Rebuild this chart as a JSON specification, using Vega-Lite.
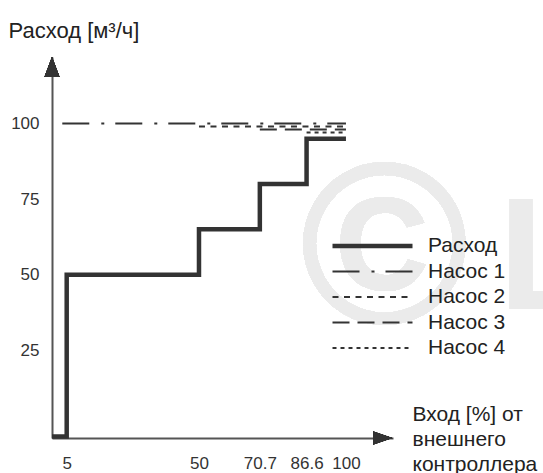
{
  "$schema": "https://vega.github.io/schema/vega-lite/v6.json",
  "width": 341,
  "height": 381,
  "autosize": "none",
  "padding": {"left": 52, "top": 57, "right": 150, "bottom": 35},
  "background": "white",
  "config": {
    "view": {"stroke": null},
    "font": "Liberation Sans",
    "axis": {"grid": false, "ticks": false, "domainColor": "#555", "domainWidth": 2, "labelFont": "Liberation Sans", "labelColor": "#333", "labelFontSize": 17, "titleFont": "Liberation Sans", "titleColor": "#222", "titleFontWeight": "normal", "titleFontSize": 21}
  },
  "data": {
    "values": [
      {"series": "Расход", "x": 0, "y": -3.5},
      {"series": "Расход", "x": 5, "y": 50},
      {"series": "Расход", "x": 50, "y": 65},
      {"series": "Расход", "x": 70.7, "y": 80},
      {"series": "Расход", "x": 86.6, "y": 95},
      {"series": "Расход", "x": 100, "y": 95},
      {"series": "Насос 1", "x": 3.5, "y": 100},
      {"series": "Насос 1", "x": 100, "y": 100},
      {"series": "Насос 2", "x": 50, "y": 99},
      {"series": "Насос 2", "x": 100, "y": 99},
      {"series": "Насос 3", "x": 70.7, "y": 98},
      {"series": "Насос 3", "x": 100, "y": 98},
      {"series": "Насос 4", "x": 86.6, "y": 97},
      {"series": "Насос 4", "x": 100, "y": 97}
    ]
  },
  "layer": [
    {
      "mark": {"type": "text", "text": "©", "fontSize": 230, "fontWeight": "bold", "color": "#ebebeb", "align": "center", "baseline": "middle"},
      "encoding": {
        "x": {"datum": 113, "type": "quantitative"},
        "y": {"datum": 57, "type": "quantitative"}
      }
    },
    {
      "mark": {"type": "text", "text": "L", "fontSize": 160, "fontWeight": "bold", "color": "#ebebeb", "align": "left", "baseline": "alphabetic"},
      "encoding": {
        "x": {"datum": 152, "type": "quantitative"},
        "y": {"datum": 38.5, "type": "quantitative"}
      }
    },
    {
      "mark": {"type": "line", "interpolate": "step-after", "color": "#333", "strokeCap": "butt", "strokeJoin": "miter"},
      "encoding": {
        "x": {
          "field": "x", "type": "quantitative",
          "scale": {"domain": [0, 116], "nice": false, "zero": false},
          "axis": {
            "values": [5, 50, 70.7, 86.6, 100], "labelExpr": "toString(datum.value)", "labelPadding": 17,
            "title": ["Вход [%] от", "внешнего", "контроллера"],
            "titleAngle": 0, "titleAlign": "left", "titleBaseline": "alphabetic",
            "titleX": 360, "titleY": -18, "titleLineHeight": 25
          }
        },
        "y": {
          "field": "y", "type": "quantitative",
          "scale": {"domain": [-4, 122], "nice": false, "zero": false},
          "axis": {
            "values": [25, 50, 75, 100], "labelPadding": 13,
            "title": "Расход [м³/ч]", "titleAngle": 0, "titleAlign": "left", "titleBaseline": "middle",
            "titleX": -44, "titleY": -27, "titleFontSize": 22
          }
        },
        "strokeDash": {
          "field": "series", "type": "nominal",
          "scale": {"domain": ["Расход", "Насос 1", "Насос 2", "Насос 3", "Насос 4"], "range": [[1, 0], [27, 12, 3, 11], [6, 5.5], [17, 8], [4, 4]]},
          "legend": {"title": null, "orient": "none", "legendX": 278, "legendY": 179, "padding": 0, "clipHeight": 20, "symbolType": "stroke", "symbolSize": 6400, "symbolStrokeColor": "#333", "labelFont": "Liberation Sans", "labelFontSize": 21, "labelColor": "#222", "labelOffset": 13, "rowPadding": 4.5}
        },
        "strokeWidth": {
          "field": "series", "type": "nominal",
          "scale": {"type": "ordinal", "domain": ["Расход", "Насос 1", "Насос 2", "Насос 3", "Насос 4"], "range": [4.5, 2, 2, 2, 2]},
          "legend": {"title": null, "orient": "none", "legendX": 278, "legendY": 179, "padding": 0, "clipHeight": 20, "symbolType": "stroke", "symbolSize": 6400, "symbolStrokeColor": "#333", "labelFont": "Liberation Sans", "labelFontSize": 21, "labelColor": "#222", "labelOffset": 13, "rowPadding": 4.5}
        }
      }
    },
    {
      "mark": {"type": "point", "shape": "M-0.75,1L0,-1L0.75,1Z", "size": 400, "filled": true, "color": "#333", "opacity": 1},
      "encoding": {
        "x": {"datum": 0, "type": "quantitative"},
        "y": {"datum": 118.7, "type": "quantitative"}
      }
    },
    {
      "mark": {"type": "point", "shape": "M-1,-0.68L1,0L-1,0.68Z", "size": 361, "filled": true, "color": "#333", "opacity": 1},
      "encoding": {
        "x": {"datum": 112.5, "type": "quantitative"},
        "y": {"datum": -4, "type": "quantitative"}
      }
    }
  ]
}
